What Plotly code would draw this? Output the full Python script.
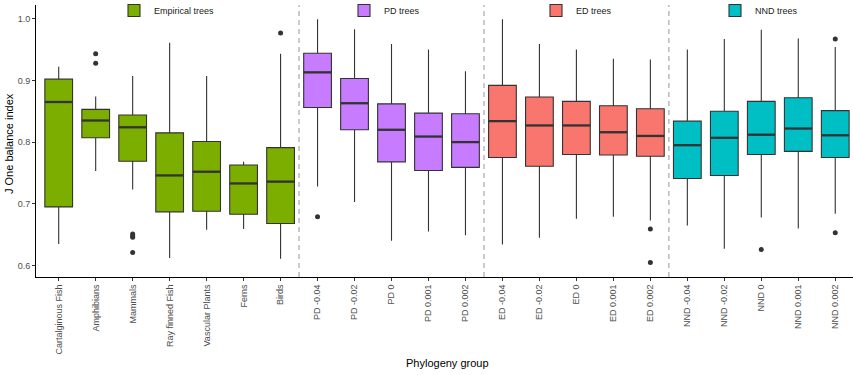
import plotly.graph_objects as go

# Phylogeny groups (x categories) split into the four tree families
empirical_cats = ["Cartalginous Fish", "Amphibians", "Mammals", "Ray finned Fish",
                  "Vascular Plants", "Ferns", "Birds"]
pd_cats = ["PD -0.04", "PD -0.02", "PD 0", "PD 0.001", "PD 0.002"]
ed_cats = ["ED -0.04", "ED -0.02", "ED 0", "ED 0.001", "ED 0.002"]
nnd_cats = ["NND -0.04", "NND -0.02", "NND 0", "NND 0.001", "NND 0.002"]

# Box summaries per group: lower whisker, Q1, median, Q3, upper whisker
empirical_low = [0.635, 0.753, 0.723, 0.612, 0.658, 0.659, 0.611]
empirical_q1 = [0.695, 0.807, 0.769, 0.687, 0.688, 0.683, 0.668]
empirical_med = [0.865, 0.835, 0.824, 0.746, 0.752, 0.733, 0.736]
empirical_q3 = [0.902, 0.853, 0.844, 0.815, 0.801, 0.763, 0.791]
empirical_high = [0.922, 0.874, 0.907, 0.961, 0.907, 0.768, 0.943]

pd_low = [0.728, 0.703, 0.640, 0.655, 0.649]
pd_q1 = [0.856, 0.820, 0.768, 0.754, 0.759]
pd_med = [0.913, 0.863, 0.820, 0.809, 0.800]
pd_q3 = [0.944, 0.903, 0.862, 0.847, 0.846]
pd_high = [0.999, 0.983, 0.959, 0.950, 0.915]

ed_low = [0.634, 0.645, 0.676, 0.679, 0.673]
ed_q1 = [0.775, 0.761, 0.780, 0.779, 0.777]
ed_med = [0.834, 0.827, 0.827, 0.816, 0.810]
ed_q3 = [0.892, 0.873, 0.866, 0.859, 0.854]
ed_high = [0.999, 0.959, 0.950, 0.935, 0.934]

nnd_low = [0.665, 0.627, 0.678, 0.660, 0.684]
nnd_q1 = [0.741, 0.746, 0.780, 0.785, 0.775]
nnd_med = [0.795, 0.807, 0.812, 0.822, 0.811]
nnd_q3 = [0.834, 0.850, 0.866, 0.872, 0.851]
nnd_high = [0.950, 0.967, 0.982, 0.968, 0.954]

# Outlying trees: (category, value)
outlier_cats = ["Amphibians", "Amphibians", "Mammals", "Mammals", "Mammals", "Mammals",
                "Birds", "PD -0.04", "ED 0.002", "ED 0.002", "NND 0",
                "NND 0.002", "NND 0.002"]
outlier_vals = [0.943, 0.928, 0.651, 0.648, 0.646, 0.621,
                0.977, 0.679, 0.659, 0.605, 0.626,
                0.967, 0.653]

y_ticks = [0.6, 0.7, 0.8, 0.9, 1.0]

groups = [
    ("Empirical trees", empirical_cats, empirical_low, empirical_q1, empirical_med,
     empirical_q3, empirical_high, "#7CAE00"),
    ("PD trees", pd_cats, pd_low, pd_q1, pd_med, pd_q3, pd_high, "#C77CFF"),
    ("ED trees", ed_cats, ed_low, ed_q1, ed_med, ed_q3, ed_high, "#F8766D"),
    ("NND trees", nnd_cats, nnd_low, nnd_q1, nnd_med, nnd_q3, nnd_high, "#00BFC4"),
]

all_cats = empirical_cats + pd_cats + ed_cats + nnd_cats
pos = {c: i for i, c in enumerate(all_cats)}
BOX_W = 0.75
EDGE = "#333333"
FONT = "Liberation Sans, Arial, sans-serif"
W, H = 853, 375
ML, MR, MT, MB = 36, 0, 5, 98
PW, PH = W - ML - MR, H - MT - MB


def px_to_paper_x(px):
    return (px - ML) / PW


def px_to_paper_y(py):
    return (H - MB - py) / PH


fig = go.Figure()
legend_ids = ["legend", "legend2", "legend3", "legend4"]

for (name, cats, low, q1, med, q3, high, color), lid in zip(groups, legend_ids):
    xs = [pos[c] for c in cats]
    fig.add_trace(go.Box(
        name=name, x=xs, lowerfence=low, q1=q1, median=med, q3=q3, upperfence=high,
        width=BOX_W, whiskerwidth=0, boxpoints=False,
        fillcolor=color, line=dict(color=EDGE, width=1.1),
        legend=lid, hoverinfo="skip",
    ))
    # thicker median bars
    mx, my = [], []
    for x, m in zip(xs, med):
        mx += [x - BOX_W / 2, x + BOX_W / 2, None]
        my += [m, m, None]
    fig.add_trace(go.Scatter(x=mx, y=my, mode="lines", line=dict(color=EDGE, width=2.3),
                             showlegend=False, hoverinfo="skip"))

fig.add_trace(go.Scatter(
    x=[pos[c] for c in outlier_cats], y=outlier_vals, mode="markers",
    marker=dict(color=EDGE, size=5), showlegend=False, hoverinfo="skip"))

# dashed separators between tree families
boundary = 0
for _, cats, *_rest in groups[:-1]:
    boundary += len(cats)
    fig.add_shape(type="line", xref="x", yref="paper", x0=boundary - 0.5, x1=boundary - 0.5,
                  y0=0, y1=1, line=dict(color="#BEBEBE", width=1.6, dash="5px,4px"),
                  layer="below")

legend_x = [114, 344, 536, 715]
layout_legends = {}
for lid, lx in zip(legend_ids, legend_x):
    layout_legends[lid] = dict(
        x=lx / W, xref="container", xanchor="left",
        y=1.033, yref="paper", yanchor="top",
        orientation="h", bgcolor="rgba(0,0,0,0)",
        font=dict(family=FONT, size=9, color="#1a1a1a"),
        itemclick=False, itemdoubleclick=False,
    )

# axis titles
fig.add_annotation(text="J One balance index", xref="paper", yref="paper",
                   x=px_to_paper_x(9), y=px_to_paper_y(144),
                   xanchor="center", yanchor="middle", textangle=-90, showarrow=False,
                   font=dict(family=FONT, size=11, color="black"))
fig.add_annotation(text="Phylogeny group", xref="paper", yref="paper",
                   x=px_to_paper_x(447), y=px_to_paper_y(363),
                   xanchor="center", yanchor="middle", showarrow=False,
                   font=dict(family=FONT, size=11, color="black"))

fig.update_layout(
    width=W, height=H,
    margin=dict(l=ML, r=MR, t=MT, b=MB, autoexpand=False),
    paper_bgcolor="white", plot_bgcolor="white",
    font=dict(family=FONT),
    **layout_legends,
)

fig.update_xaxes(
    range=[-0.614, 21.48], tickmode="array", tickvals=list(range(len(all_cats))),
    ticktext=all_cats, tickangle=-90, ticks="outside", ticklen=3, tickcolor=EDGE,
    tickfont=dict(family=FONT, size=9, color="#4D4D4D"),
    showline=True, linecolor="black", linewidth=1, showgrid=False, zeroline=False,
)
fig.update_yaxes(
    range=[0.5814, 1.0222], tickmode="array", tickvals=y_ticks,
    ticktext=[f"{v:.1f}" for v in y_ticks], ticks="outside", ticklen=3, tickcolor=EDGE,
    tickfont=dict(family=FONT, size=9, color="#4D4D4D"),
    showline=True, linecolor="black", linewidth=1, showgrid=False, zeroline=False,
)

fig.write_html("out.html")
